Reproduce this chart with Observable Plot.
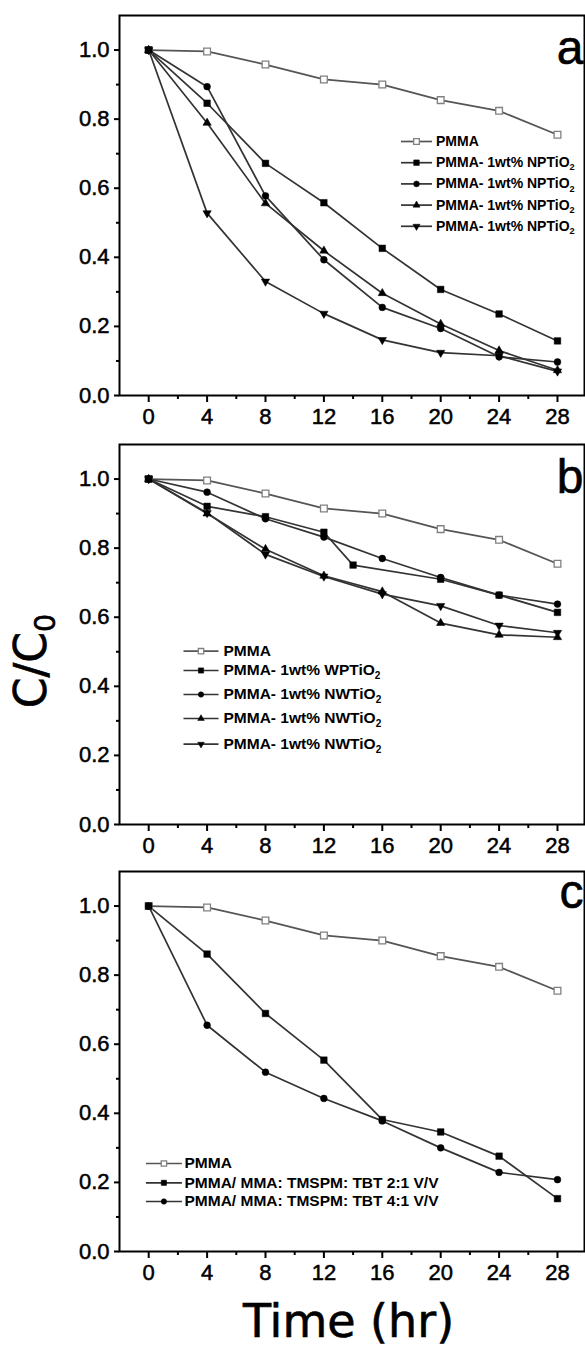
<!DOCTYPE html>
<html>
<head>
<meta charset="utf-8">
<script src="https://cdn.jsdelivr.net/npm/d3@7"></script>
<script src="https://cdn.jsdelivr.net/npm/@observablehq/plot@0.6"></script>
<style>
  body { margin: 0; background: #fff; }
  #fig { position: relative; width: 585px; height: 1351px; overflow: hidden; background: #fff; }
  .panel { position: absolute; left: 0; }
  #titles { position: absolute; left: 0; top: 0; pointer-events: none; }
</style>
</head>
<body>
<div id="fig"></div>
<script>
// ---------------- data ----------------
const hours = [0, 4, 8, 12, 16, 20, 24, 28];
const hoursWP = [0, 4, 8, 12, 14, 20, 24, 28];

const pmma = [1.0, 0.996, 0.958, 0.915, 0.900, 0.855, 0.824, 0.755];

// panel a
const aSquare = [1.0, 0.846, 0.672, 0.558, 0.426, 0.307, 0.236, 0.158];
const aCircle = [1.0, 0.894, 0.578, 0.393, 0.255, 0.194, 0.112, 0.097];
const aTriUp = [1.0, 0.789, 0.556, 0.419, 0.296, 0.207, 0.130, 0.073];
const aTriDown = [1.0, 0.528, 0.330, 0.237, 0.161, 0.124, 0.115, 0.070];

// panel b
const bSquare = [1.0, 0.921, 0.891, 0.846, 0.751, 0.710, 0.664, 0.614];
const bCircle = [1.0, 0.962, 0.885, 0.832, 0.770, 0.715, 0.664, 0.638];
const bTriUp = [1.0, 0.900, 0.797, 0.720, 0.674, 0.583, 0.549, 0.542];
const bTriDown = [1.0, 0.902, 0.782, 0.718, 0.667, 0.633, 0.576, 0.555];

// panel c
const cSquare = [1.0, 0.861, 0.689, 0.554, 0.382, 0.346, 0.276, 0.153];
const cCircle = [1.0, 0.655, 0.519, 0.443, 0.378, 0.300, 0.229, 0.208];

const labelsA = ["PMMA", "PMMA- 1wt% NPTiO2", "PMMA- 1wt% NPTiO2", "PMMA- 1wt% NPTiO2", "PMMA- 1wt% NPTiO2"];
const labelsB = ["PMMA", "PMMA- 1wt% WPTiO2", "PMMA- 1wt% NWTiO2", "PMMA- 1wt% NWTiO2", "PMMA- 1wt% NWTiO2"];
const labelsC = ["PMMA", "PMMA/ MMA: TMSPM: TBT 2:1 V/V", "PMMA/ MMA: TMSPM: TBT 4:1 V/V"];
const panelLetters = ["a", "b", "c"];

const xTicks = [0, 4, 8, 12, 16, 20, 24, 28];
const xMinor = [2, 6, 10, 14, 18, 22, 26];
const yTicks = [0, 0.2, 0.4, 0.6, 0.8, 1.0];
const yMinor = [0.1, 0.3, 0.5, 0.7, 0.9];

const xTitle = "Time (hr)";

// ---------------- symbols & styles ----------------
const sqrt3 = Math.sqrt(3);
const triangleDown = {
  draw(context, size) {
    const y = Math.sqrt(size / (sqrt3 * 3));
    context.moveTo(0, 2 * y);
    context.lineTo(-sqrt3 * y, -y);
    context.lineTo(sqrt3 * y, -y);
    context.closePath();
  }
};
function hline(len) {
  return { draw(context) { context.moveTo(-len / 2, 0); context.lineTo(len / 2, 0); } };
}

const kinds = {
  open:   { symbol: "square",   r: 3.8, fill: "white", stroke: "#808080", line: "#555", sw: 1.3 },
  square: { symbol: "square",   r: 3.7, fill: "black", stroke: "black",   line: "#333", sw: 0.5 },
  circle: { symbol: "circle",   r: 3.4, fill: "black", stroke: "black",   line: "#333", sw: 0.5 },
  triUp:  { symbol: "triangle", r: 3.1, fill: "black", stroke: "black",   line: "#333", sw: 0.5 },
  triDown:{ symbol: triangleDown, r: 3.1, fill: "black", stroke: "black", line: "#333", sw: 0.5 }
};

function rowsOf(xs, ys) { return xs.map((h, i) => ({ hour: h, value: ys[i] })); }

const panels = [
  {
    frameTop: 15,
    series: [
      { kind: "open", data: rowsOf(hours, pmma) },
      { kind: "square", data: rowsOf(hours, aSquare) },
      { kind: "circle", data: rowsOf(hours, aCircle) },
      { kind: "triUp", data: rowsOf(hours, aTriUp) },
      { kind: "triDown", data: rowsOf(hours, aTriDown) }
    ],
    labels: labelsA,
    legend: { rows: [126, 147.2, 168.4, 189.6, 210.8], lineX: 297, lineLen: 31, textX: 316.5, font: 14, rScale: 0.85 },
    letterDy: 48
  },
  {
    frameTop: 444.3,
    series: [
      { kind: "open", data: rowsOf(hours, pmma) },
      { kind: "square", data: rowsOf(hoursWP, bSquare) },
      { kind: "circle", data: rowsOf(hours, bCircle) },
      { kind: "triUp", data: rowsOf(hours, bTriUp) },
      { kind: "triDown", data: rowsOf(hours, bTriDown) }
    ],
    labels: labelsB,
    legend: { rows: [206.7, 226, 250, 274, 299.7], lineX: 81.5, lineLen: 35, textX: 104, font: 15.5, rScale: 0.8 },
    letterDy: 48
  },
  {
    frameTop: 871,
    series: [
      { kind: "open", data: rowsOf(hours, pmma) },
      { kind: "square", data: rowsOf(hours, cSquare) },
      { kind: "circle", data: rowsOf(hours, cCircle) }
    ],
    labels: labelsC,
    legend: { rows: [292, 311.3, 330], lineX: 44.4, lineLen: 36, textX: 65, font: 15.5, rScale: 0.8 },
    letterDy: 36
  }
];

const fig = document.getElementById("fig");
const MT = 10, MB = 40, PH = 380;
const ns = "http://www.w3.org/2000/svg";
const TICK_FONT = 22;

panels.forEach((p, pi) => {
  const marks = [];
  p.series.forEach(s => {
    const k = kinds[s.kind];
    marks.push(Plot.line(s.data, { x: "hour", y: "value", stroke: k.line, strokeWidth: 1.7 }));
  });
  p.series.forEach(s => {
    const k = kinds[s.kind];
    marks.push(Plot.dot(s.data, { x: "hour", y: "value", symbol: k.symbol, r: k.r, fill: k.fill, stroke: k.stroke, strokeWidth: k.sw }));
  });
  p.series.forEach((s, i) => {
    const k = kinds[s.kind];
    const L = p.legend;
    const dy = L.rows[i];
    marks.push(Plot.dot([0], { frameAnchor: "top-left", dx: L.lineX, dy, symbol: hline(L.lineLen), fill: "none", stroke: k.line, strokeWidth: 1.7 }));
    marks.push(Plot.dot([0], { frameAnchor: "top-left", dx: L.lineX, dy, symbol: k.symbol, r: k.r * L.rScale, fill: k.fill, stroke: k.stroke, strokeWidth: k.sw }));
    marks.push(Plot.text([p.labels[i]], { frameAnchor: "top-left", dx: L.textX, dy, text: d => d, textAnchor: "start", lineAnchor: "middle", fontSize: L.font, fontWeight: "bold", fill: "black" }));
  });
  marks.push(Plot.text([panelLetters[pi]], { frameAnchor: "top-right", dx: -1, dy: p.letterDy, text: d => d, textAnchor: "end", lineAnchor: "bottom", fontSize: 48, fill: "black", stroke: "black", strokeWidth: 0.6 }));
  marks.push(Plot.axisX({ ticks: xTicks, tickSize: 7, tickPadding: 6, fontSize: TICK_FONT, textStroke: "black", textStrokeWidth: 0.5, strokeWidth: 2, label: null }));
  marks.push(Plot.axisX({ ticks: xMinor, tickSize: 4, fill: "none", strokeWidth: 2, label: null }));
  marks.push(Plot.axisY({ ticks: yTicks, tickFormat: d3.format(".1f"), tickSize: 5, tickPadding: 5, fontSize: TICK_FONT, textStroke: "black", textStrokeWidth: 0.5, strokeWidth: 2, label: null }));
  marks.push(Plot.axisY({ ticks: yMinor, tickSize: 3, fill: "none", strokeWidth: 2, label: null }));
  marks.push(Plot.frame({ stroke: "black", strokeWidth: 2 }));

  const svg = Plot.plot({
    width: 585,
    height: MT + PH + MB,
    marginLeft: 119,
    marginRight: 1,
    marginTop: MT,
    marginBottom: MB,
    x: { domain: [-2, 29.85] },
    y: { domain: [0, 1.1] },
    style: { fontFamily: "'Liberation Sans', Arial, sans-serif", fontSize: TICK_FONT + "px", color: "black", background: "transparent", overflow: "visible" },
    marks
  });
  svg.querySelectorAll("text").forEach(t => {
    const m = t.textContent.match(/^(.*TiO)(2)$/);
    if (m && t.children.length === 0) {
      t.textContent = m[1];
      const ts = document.createElementNS(ns, "tspan");
      ts.setAttribute("dy", "0.35em");
      ts.setAttribute("font-size", "65%");
      ts.textContent = m[2];
      t.appendChild(ts);
    }
  });
  svg.classList.add("panel");
  svg.style.top = (p.frameTop - MT) + "px";
  fig.appendChild(svg);
});

const tsvg = document.createElementNS(ns, "svg");
tsvg.setAttribute("id", "titles");
tsvg.setAttribute("width", 585);
tsvg.setAttribute("height", 1351);
tsvg.innerHTML = `
  <text transform="translate(46,661) rotate(-90)" text-anchor="middle" font-family="'DejaVu Sans', sans-serif" font-size="44" fill="black" stroke="black" stroke-width="0.6">C/C<tspan font-size="65%" dy="0.3em">0</tspan></text>
  <text x="348.5" y="1336.7" text-anchor="middle" font-family="'DejaVu Sans', sans-serif" font-size="46" fill="black" stroke="black" stroke-width="0.6"></text>`;
tsvg.querySelectorAll("text")[1].textContent = xTitle;
fig.appendChild(tsvg);
</script>
</body>
</html>
